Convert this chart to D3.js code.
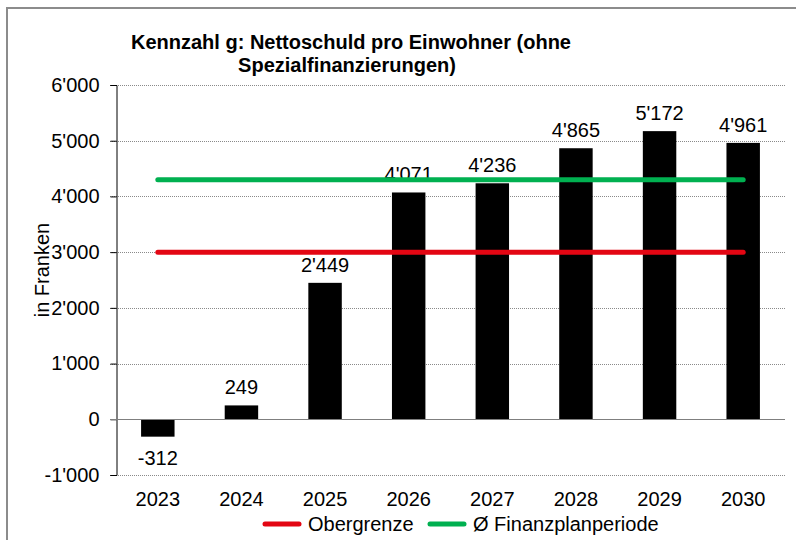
<!DOCTYPE html>
<html>
<head>
<meta charset="utf-8">
<script src="https://cdn.jsdelivr.net/npm/d3@7"></script>
<style>
  body { margin: 0; background: #fff; }
  svg { display: block; font-family: Arial, "Liberation Sans", sans-serif; }
</style>
</head>
<body>
<svg id="chart" width="796" height="540"></svg>
<script>
'use strict';

var years = ['2023', '2024', '2025', '2026', '2027', '2028', '2029', '2030'];
var nettoschuld = [-312, 249, 2449, 4071, 4236, 4865, 5172, 4961];
var obergrenze = 3000;
var finanzplanMittel = 4300;
var yTicks = [-1000, 0, 1000, 2000, 3000, 4000, 5000, 6000];

var svg = d3.select('#chart');
var margin = {left: 116, right: 11, top: 85, bottom: 65};
var width = 796 - margin.left - margin.right;
var height = 540 - margin.top - margin.bottom;
var fontSize = 20;

// outer chart frame (only top and left are visible in the crop)
svg.append('path').attr('d', 'M7 540 L7 8 L796 8')
  .attr('fill', 'none').attr('stroke', '#8c8c8c').attr('stroke-width', 2);

var x = d3.scaleBand().domain(years).range([0, width]).paddingInner(0.6).paddingOuter(0.3);
var y = d3.scaleLinear().domain([-1000, 6000]).range([height, 0]);

var g = svg.append('g').attr('transform', 'translate(' + margin.left + ',' + margin.top + ')');

var fmt = function(v) { return d3.format(',')(v).replace(/,/g, '\'').replace('\u2212', '-'); };

// gridlines
g.selectAll('.grid').data(yTicks.filter(function(t) { return t !== 0; })).enter()
  .append('line')
  .attr('x1', -6).attr('x2', width)
  .attr('y1', function(d) { return Math.round(y(d)) + 0.5; })
  .attr('y2', function(d) { return Math.round(y(d)) + 0.5; })
  .attr('stroke', '#8a8a8a').attr('stroke-width', 1).attr('stroke-dasharray', '1,1');

// y axis
var yAxis = d3.axisLeft(y).tickValues(yTicks).tickFormat(fmt).tickSize(6).tickPadding(11);
var ya = g.append('g').attr('transform', 'translate(0.5,0)').call(yAxis);
ya.select('.domain').attr('stroke', '#000');
ya.selectAll('.tick line').attr('stroke', '#000');
ya.selectAll('text').attr('font-size', fontSize).attr('fill', '#000').attr('font-family', 'Arial, "Liberation Sans", sans-serif');

// bars
g.selectAll('.bar').data(nettoschuld).enter().append('rect')
  .attr('x', function(d, i) { return x(years[i]); })
  .attr('width', x.bandwidth())
  .attr('y', function(d) { return y(Math.max(d, 0)); })
  .attr('height', function(d) { return Math.abs(y(d) - y(0)); })
  .attr('fill', '#000');

// zero line
g.append('line').attr('x1', -6).attr('x2', width)
  .attr('y1', Math.round(y(0)) + 0.5).attr('y2', Math.round(y(0)) + 0.5)
  .attr('stroke', '#7f7f7f').attr('stroke-width', 1);

// value labels
g.selectAll('.val').data(nettoschuld).enter().append('text')
  .attr('x', function(d, i) { return x(years[i]) + x.bandwidth() / 2; })
  .attr('y', function(d) { return d >= 0 ? y(d) - 11 : y(d) + 28; })
  .attr('text-anchor', 'middle').attr('font-size', fontSize).attr('fill', '#000')
  .text(fmt);

// x axis labels
g.selectAll('.xl').data(years).enter().append('text')
  .attr('x', function(d) { return x(d) + x.bandwidth() / 2; })
  .attr('y', height + 31)
  .attr('text-anchor', 'middle').attr('font-size', fontSize).attr('fill', '#000')
  .text(function(d) { return d; });

// reference lines
var x0 = x(years[0]) + x.bandwidth() / 2;
var x1 = x(years[years.length - 1]) + x.bandwidth() / 2;
var refLines = [
  {name: 'Obergrenze', value: obergrenze, color: '#e30613'},
  {name: 'Ø Finanzplanperiode', value: finanzplanMittel, color: '#00b050'}
];
g.selectAll('.ref').data(refLines).enter().append('line')
  .attr('x1', x0).attr('x2', x1)
  .attr('y1', function(d) { return y(d.value); })
  .attr('y2', function(d) { return y(d.value); })
  .attr('stroke', function(d) { return d.color; })
  .attr('stroke-width', 5).attr('stroke-linecap', 'round');

// y axis title
svg.append('text')
  .attr('transform', 'translate(49,270) rotate(-90)')
  .attr('text-anchor', 'middle').attr('font-size', fontSize).attr('fill', '#000')
  .text('in Franken');

// title
var title = svg.append('text').attr('font-size', fontSize).attr('font-weight', 'bold')
  .attr('text-anchor', 'middle').attr('fill', '#000');
title.append('tspan').attr('x', 351).attr('y', 49).text('Kennzahl g: Nettoschuld pro Einwohner (ohne');
title.append('tspan').attr('x', 347).attr('y', 72).text('Spezialfinanzierungen)');

// legend
var legendPos = [263, 428];
var lg = svg.selectAll('.lg').data(refLines).enter().append('g')
  .attr('transform', function(d, i) { return 'translate(' + legendPos[i] + ',524)'; });
lg.append('line').attr('x1', 2).attr('x2', 36).attr('y1', 0).attr('y2', 0)
  .attr('stroke', function(d) { return d.color; })
  .attr('stroke-width', 5).attr('stroke-linecap', 'round');
lg.append('text').attr('x', 45).attr('y', 7).attr('font-size', fontSize).attr('fill', '#000')
  .text(function(d) { return d.name; });
</script>
</body>
</html>
